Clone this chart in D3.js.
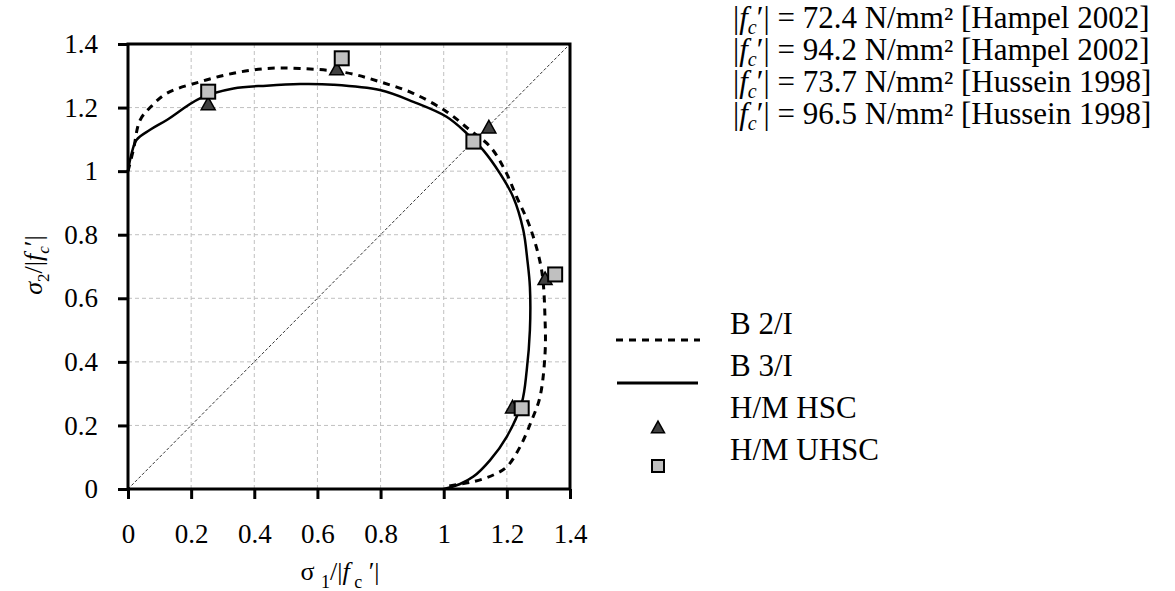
<!DOCTYPE html>
<html><head><meta charset="utf-8">
<script src="https://cdn.jsdelivr.net/npm/d3@7"></script>
<style>
html,body{margin:0;padding:0;background:#fff;}
svg text{font-family:"Liberation Serif","Times New Roman",serif !important;fill:#000;}
</style></head>
<body><svg id="c" width="1175" height="591"></svg>
<script>
// ---- data ----
const tickValues = [0, 0.2, 0.4, 0.6, 0.8, 1, 1.2, 1.4];
const tickLabels = ["0", "0.2", "0.4", "0.6", "0.8", "1", "1.2", "1.4"];

const b2x = [0, 0.017, 0.038, 0.07, 0.123, 0.228, 0.334, 0.439, 0.545, 0.69, 0.798, 0.903, 1.009, 1.083, 1.147, 1.194, 1.231, 1.273, 1.31, 1.321, 1.321, 1.305, 1.279, 1.242, 1.2, 1.157, 1.094, 1.009, 1.0];
const b2y = [1.0, 1.067, 1.16, 1.2, 1.245, 1.281, 1.308, 1.323, 1.323, 1.31, 1.281, 1.245, 1.187, 1.129, 1.077, 1.003, 0.919, 0.825, 0.689, 0.532, 0.427, 0.29, 0.217, 0.133, 0.07, 0.044, 0.023, 0.007, 0];

const b3x = [0, 0.01, 0.027, 0.07, 0.123, 0.228, 0.334, 0.439, 0.545, 0.65, 0.798, 0.904, 1.009, 1.073, 1.125, 1.178, 1.22, 1.252, 1.265, 1.273, 1.273, 1.263, 1.247, 1.2, 1.147, 1.094, 1.05, 1.0];
const b3y = [1.0, 1.05, 1.098, 1.13, 1.161, 1.229, 1.26, 1.269, 1.274, 1.272, 1.255, 1.218, 1.171, 1.119, 1.066, 0.993, 0.919, 0.815, 0.72, 0.636, 0.5, 0.374, 0.27, 0.165, 0.091, 0.039, 0.015, 0];

const hscX = [0.254, 0.661, 1.143, 1.321, 1.218];
const hscY = [1.213, 1.323, 1.14, 0.663, 0.259];
const uhscX = [0.254, 0.677, 1.094, 1.353, 1.247];
const uhscY = [1.25, 1.355, 1.093, 0.675, 0.254];

const diagX = [0, 1.4];
const diagY = [0, 1.4];

const seriesNames = ["B 2/I", "B 3/I", "H/M HSC", "H/M UHSC"];
const strengthValues = ["72.4", "94.2", "73.7", "96.5"];
const strengthSources = ["Hampel 2002", "Hampel 2002", "Hussein 1998", "Hussein 1998"];

// ---- layout ----
const FONT = '"Liberation Serif","Times New Roman",serif';
const svg = d3.select("#c");
const X0 = 128, X1 = 570, Y0 = 489, Y1 = 44;
const x = d3.scaleLinear().domain([0, 1.4]).range([X0, X1]);
const y = d3.scaleLinear().domain([0, 1.4]).range([Y0, Y1]);
const fmt = d => tickLabels[tickValues.indexOf(d)];

// grid
const grid = svg.append("g");
grid.selectAll("line.gx").data(tickValues.slice(1, -1)).enter().append("line")
  .attr("x1", d => x(d)).attr("x2", d => x(d)).attr("y1", Y1).attr("y2", Y0)
  .attr("stroke", "#c0c0c0").attr("stroke-width", 1).attr("stroke-dasharray", "4,3");
grid.selectAll("line.gy").data(tickValues.slice(1, -1)).enter().append("line")
  .attr("x1", X0).attr("x2", X1).attr("y1", d => y(d)).attr("y2", d => y(d))
  .attr("stroke", "#c0c0c0").attr("stroke-width", 1).attr("stroke-dasharray", "4,3");

// diagonal
svg.append("path")
  .attr("d", d3.line()(diagX.map((v, i) => [x(v), y(diagY[i])])))
  .attr("stroke", "#333").attr("stroke-width", 1).attr("stroke-dasharray", "3,2").attr("fill", "none");

// axes
const ax = svg.append("g").attr("transform", `translate(0,${Y0})`)
  .call(d3.axisBottom(x).tickValues(tickValues).tickFormat(fmt).tickSize(10).tickPadding(25));
const ay = svg.append("g").attr("transform", `translate(${X0},0)`)
  .call(d3.axisLeft(y).tickValues(tickValues).tickFormat(fmt).tickSize(10).tickPadding(20));
[ax, ay].forEach(g => {
  g.attr("font-family", null).attr("font-size", null).style("font-family", FONT);
  g.select(".domain").remove();
  g.selectAll(".tick line").attr("stroke", "#000").attr("stroke-width", 3);
  g.selectAll(".tick text").style("font-family", FONT).style("font-size", "27px");
});

// curves
const curve = d3.line().curve(d3.curveCatmullRom.alpha(0.5));
svg.append("path")
  .attr("d", curve(b2x.map((v, i) => [x(v), y(b2y[i])])))
  .attr("fill", "none").attr("stroke", "#000").attr("stroke-width", 3).attr("stroke-dasharray", "7,6");
svg.append("path")
  .attr("d", curve(b3x.map((v, i) => [x(v), y(b3y[i])])))
  .attr("fill", "none").attr("stroke", "#000").attr("stroke-width", 2.5);

// markers
const triPath = (s) => `M0,${-s * 0.45}L${s / 2},${s * 0.45}L${-s / 2},${s * 0.45}Z`;
svg.append("g").selectAll("path").data(hscX.map((v, i) => [v, hscY[i]])).enter().append("path")
  .attr("transform", d => `translate(${x(d[0])},${y(d[1])})`)
  .attr("d", triPath(14)).attr("fill", "#404040").attr("stroke", "#000").attr("stroke-width", 1.5);
svg.append("g").selectAll("rect").data(uhscX.map((v, i) => [v, uhscY[i]])).enter().append("rect")
  .attr("x", d => x(d[0]) - 7).attr("y", d => y(d[1]) - 7).attr("width", 14).attr("height", 14)
  .attr("fill", "#c0c0c0").attr("stroke", "#000").attr("stroke-width", 2);

// frame
svg.append("rect").attr("x", X0).attr("y", Y1).attr("width", X1 - X0).attr("height", Y0 - Y1)
  .attr("fill", "none").attr("stroke", "#000").attr("stroke-width", 3);

// axis titles
const xt = svg.append("text").attr("x", 340).attr("y", 580).attr("text-anchor", "middle").style("font-size", "26px");
xt.append("tspan").text("σ ");
xt.append("tspan").style("font-size", "18px").attr("dy", 8).text(" 1");
xt.append("tspan").attr("dy", -8).text("/|");
xt.append("tspan").style("font-style", "italic").text("f");
xt.append("tspan").style("font-size", "18px").attr("dy", 8).text(" c");
xt.append("tspan").attr("dy", -8).text(" ′|");

const yt = svg.append("text").attr("transform", "translate(42,265) rotate(-90)").attr("text-anchor", "middle").style("font-size", "26px");
yt.append("tspan").style("font-style", "italic").text("σ");
yt.append("tspan").style("font-size", "17px").attr("dy", 7).text("2");
yt.append("tspan").attr("dy", -7).text("/|");
yt.append("tspan").style("font-style", "italic").text("f");
yt.append("tspan").style("font-style", "italic").style("font-size", "17px").attr("dy", 7).text("c");
yt.append("tspan").attr("dy", -7).text("′|");

// top-right text block
strengthValues.forEach((v, i) => {
  const t = svg.append("text").attr("x", 733).attr("y", 28 + i * 32).style("font-size", "31px");
  t.append("tspan").text("|");
  t.append("tspan").style("font-style", "italic").text("f");
  t.append("tspan").style("font-style", "italic").style("font-size", "20px").attr("dy", 6).text("c");
  t.append("tspan").attr("dy", -6).text(`′| = ${v} N/mm² [${strengthSources[i]}]`);
});

// legend
const lg = svg.append("g");
const legY = [334, 376, 418, 460];
seriesNames.forEach((n, i) => {
  lg.append("text").attr("x", 730).attr("y", legY[i]).style("font-size", "31px").text(n);
});
lg.append("line").attr("x1", 616).attr("x2", 700).attr("y1", 340).attr("y2", 340)
  .attr("stroke", "#000").attr("stroke-width", 3).attr("stroke-dasharray", "7,6");
lg.append("line").attr("x1", 617).attr("x2", 698).attr("y1", 383).attr("y2", 383)
  .attr("stroke", "#000").attr("stroke-width", 3);
lg.append("path").attr("transform", "translate(658,427)").attr("d", triPath(13))
  .attr("fill", "#404040").attr("stroke", "#000").attr("stroke-width", 1.5);
lg.append("rect").attr("x", 652).attr("y", 460).attr("width", 12).attr("height", 12)
  .attr("fill", "#c0c0c0").attr("stroke", "#000").attr("stroke-width", 2);
</script></body></html>
